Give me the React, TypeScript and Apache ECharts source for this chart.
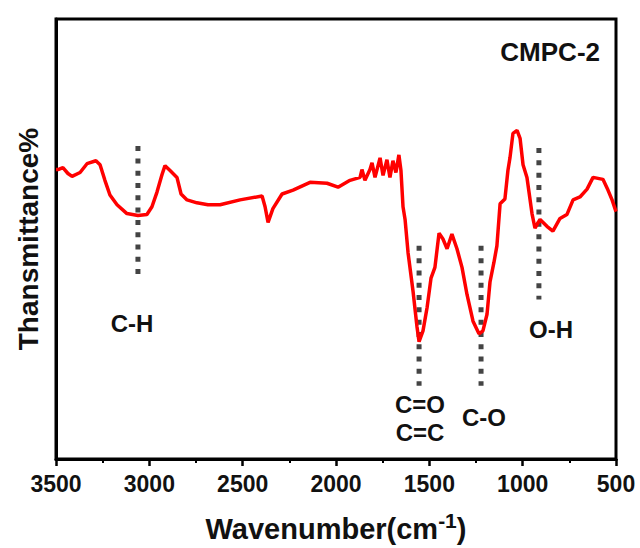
import React, { useEffect, useRef } from "react";
import * as echarts from "echarts";

// FTIR spectrum (wavenumber cm^-1, arbitrary transmittance units)
const wavenumbers = [
  3500, 3489, 3463, 3436, 3414, 3371, 3334, 3286, 3264, 3238, 3211, 3173, 3120, 3061, 3013, 2986,
  2959, 2932, 2916, 2889, 2852, 2830, 2798, 2745, 2686, 2621, 2514, 2396, 2380, 2364, 2338, 2289,
  2230, 2139, 2048, 1989, 1925, 1871, 1861, 1845, 1818, 1807, 1791, 1764, 1748, 1727, 1711, 1695,
  1679, 1663, 1652, 1641, 1630, 1614, 1587, 1566, 1555, 1534, 1512, 1491, 1470, 1448, 1427, 1405,
  1379, 1352, 1325, 1298, 1266, 1234, 1213, 1191, 1175, 1154, 1138, 1121, 1095, 1079, 1068, 1052,
  1030, 1014, 998, 977, 950, 934, 907, 870, 838, 800, 763, 730, 693, 655, 623, 570, 543, 521, 500,
];
const transmittance = [
  296, 296, 298, 292, 289, 293, 302, 305, 301, 285, 270, 260, 251, 249, 250, 258,
  273, 291, 300, 295, 288, 271, 265, 262, 260, 260, 265, 269, 258, 242, 256, 271,
  275, 283, 282, 278, 285, 288, 296, 285, 296, 303, 288, 308, 290, 306, 288, 305,
  293, 311, 295, 258, 245, 211, 171, 135, 120, 131, 155, 185, 196, 231, 225, 215,
  230, 215, 196, 168, 141, 128, 131, 148, 181, 201, 218, 261, 266, 295, 308, 333,
  336, 328, 301, 288, 251, 236, 245, 238, 233, 246, 250, 265, 268, 276, 288, 286, 275, 265, 253,
];

const xTicks = [3500, 3000, 2500, 2000, 1500, 1000, 500];

// Band markers: position, top, bottom
const bandNames = ["C-H", "C=O", "C-O", "O-H"];
const bandPositions = [3061, 1555, 1223, 913];
const bandTops = [320, 218, 218, 318];
const bandBottoms = [186, 75, 75, 163];

// Band labels: text, wavenumber, transmittance
const labelTexts = ["C-H", "C=O", "C=C", "C-O", "O-H"];
const labelX = [3093, 1550, 1550, 1207, 848];
const labelY = [139, 56, 27, 42, 132];

const sampleName = "CMPC-2";

const FONT = "'Liberation Sans', Arial, sans-serif";

export default function App() {
  const ref = useRef<HTMLDivElement>(null);

  useEffect(() => {
    document.body.style.margin = "0";
    if (!ref.current) return;
    const chart = echarts.init(ref.current, null, { renderer: "svg" });

    const spectrum = wavenumbers.map((w, i) => [w, transmittance[i]]);

    const bandSeries = bandPositions.map((w, i) => ({
      name: bandNames[i],
      type: "line",
      data: [
        [w, bandTops[i]],
        [w, bandBottoms[i]],
      ],
      symbol: "none",
      silent: true,
      lineStyle: { color: "#444444", width: 5, type: [5, 7.3], cap: "butt" },
      z: 1,
    }));

    chart.setOption({
      animation: false,
      backgroundColor: "#ffffff",
      grid: {
        left: 56,
        right: 24,
        top: 19,
        bottom: 80,
        show: true,
        borderColor: "#000",
        borderWidth: 3,
      },
      xAxis: {
        type: "value",
        min: 500,
        max: 3500,
        interval: 500,
        inverse: true,
        axisLine: { show: true, lineStyle: { color: "#000", width: 3 } },
        axisTick: { show: true, inside: false, length: 7, lineStyle: { color: "#000", width: 2.5 } },
        minorTick: { show: true, splitNumber: 2, length: 4, lineStyle: { color: "#000", width: 2 } },
        splitLine: { show: false },
        axisLabel: {
          color: "#111",
          fontFamily: FONT,
          fontWeight: "bold",
          fontSize: 23,
          margin: 13,
          formatter: (v: number) => (xTicks.includes(v) ? String(v) : ""),
        },
        name: "Wavenumber(cm{sup|-1})",
        nameLocation: "middle",
        nameGap: 51,
        nameTextStyle: {
          color: "#111",
          fontFamily: FONT,
          fontWeight: "bold",
          fontSize: 29,
          rich: {
            sup: {
              fontFamily: FONT,
              fontWeight: "bold",
              fontSize: 21,
              color: "#111",
              verticalAlign: "top",
              padding: [0, 0, 16, 0],
            },
          },
        },
      },
      yAxis: {
        type: "value",
        min: 0,
        max: 450,
        axisLine: { show: true, lineStyle: { color: "#000", width: 3 } },
        axisTick: { show: false },
        axisLabel: { show: false },
        splitLine: { show: false },
        name: "Thansmittance%",
        nameLocation: "middle",
        nameGap: 14,
        nameRotate: 90,
        nameTextStyle: {
          color: "#111",
          fontFamily: FONT,
          fontWeight: "bold",
          fontSize: 28,
        },
      },
      series: [
        ...bandSeries,
        {
          name: "spectrum",
          type: "line",
          data: spectrum,
          symbol: "none",
          lineStyle: { color: "#ff0000", width: 3.5 },
          z: 3,
        },
        {
          name: "labels",
          type: "scatter",
          symbolSize: 0,
          silent: true,
          itemStyle: { opacity: 1 },
          data: labelTexts.map((t, i) => ({ value: [labelX[i], labelY[i]], name: t })),
          label: {
            show: true,
            position: "inside",
            formatter: (p: any) => p.name,
            color: "#111",
            opacity: 1,
            fontFamily: FONT,
            fontWeight: "bold",
            fontSize: 24,
          },
          z: 4,
        },
      ],
      graphic: [
        {
          type: "text",
          right: 40,
          top: 39,
          style: {
            text: sampleName,
            fill: "#111",
            font: `bold 26px ${FONT}`,
          },
        },
      ],
    });

    return () => chart.dispose();
  }, []);

  return <div ref={ref} style={{ width: 640, height: 548 }} />;
}
